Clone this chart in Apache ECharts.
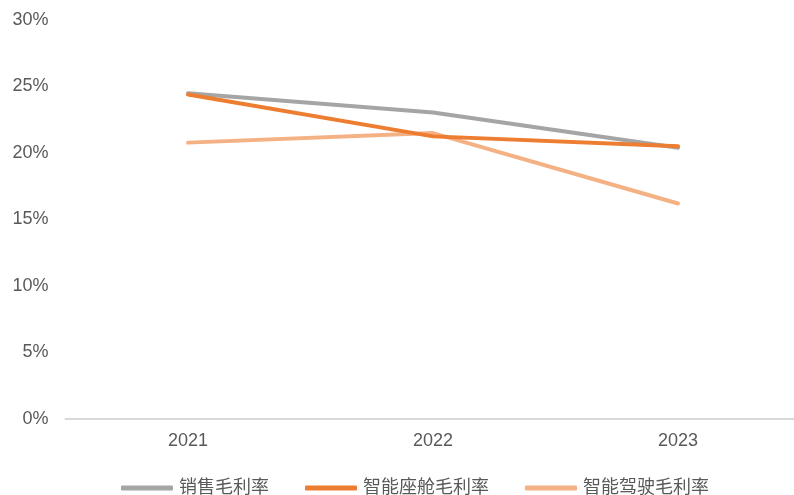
<!DOCTYPE html>
<html><head><meta charset="utf-8">
<script src="https://cdn.jsdelivr.net/npm/echarts@6/dist/echarts.min.js"></script>
<style>html,body{margin:0;padding:0;background:#fff}#c{width:794px;height:495px}</style>
</head><body><div id="c"></div>
<script>
const categories = ['2021', '2022', '2023'];
const salesMargin = [24.5, 23.05, 20.4];
const cockpitMargin = [24.4, 21.25, 20.5];
const drivingMargin = [20.78, 21.5, 16.2];
const seriesNames = ['销售毛利率', '智能座舱毛利率', '智能驾驶毛利率'];
const colors = ['#A5A5A5', '#ED7D31', '#F4B183'];
const font = '"Liberation Sans", Arial, "Noto Sans CJK SC", sans-serif';

const chart = echarts.init(document.getElementById('c'));
const data = [salesMargin, cockpitMargin, drivingMargin];
chart.setOption({
  animation: false,
  textStyle: { fontFamily: font },
  grid: { left: 65.5, top: 20, width: 735, bottom: 76, containLabel: false, outerBoundsMode: 'none' },
  legend: {
    left: 116, top: 474,
    itemWidth: 52, itemHeight: 5, itemGap: 36,
    icon: 'roundRect',
    textStyle: { fontSize: 18, color: '#595959', fontFamily: font, padding: [0, 0, 0, 1] },
    data: seriesNames
  },
  xAxis: {
    type: 'category', data: categories, boundaryGap: true,
    axisLine: { lineStyle: { color: '#D9D9D9', width: 2 } },
    axisTick: { show: false },
    axisLabel: { fontSize: 18, color: '#595959', margin: 13, fontFamily: font }
  },
  yAxis: {
    type: 'value', min: 0, max: 30, interval: 5,
    axisLine: { show: false }, axisTick: { show: false },
    splitLine: { show: false },
    axisLabel: { fontSize: 18, color: '#595959', margin: 17, formatter: '{value}%', fontFamily: font }
  },
  series: seriesNames.map((n, i) => ({
    name: n, type: 'line', data: data[i], symbol: 'none',
    lineStyle: { color: colors[i], width: 4, cap: 'round', join: 'round' },
    itemStyle: { color: colors[i] },
    z: i === 2 ? 1 : (i === 1 ? 3 : 2)
  }))
});
</script></body></html>
